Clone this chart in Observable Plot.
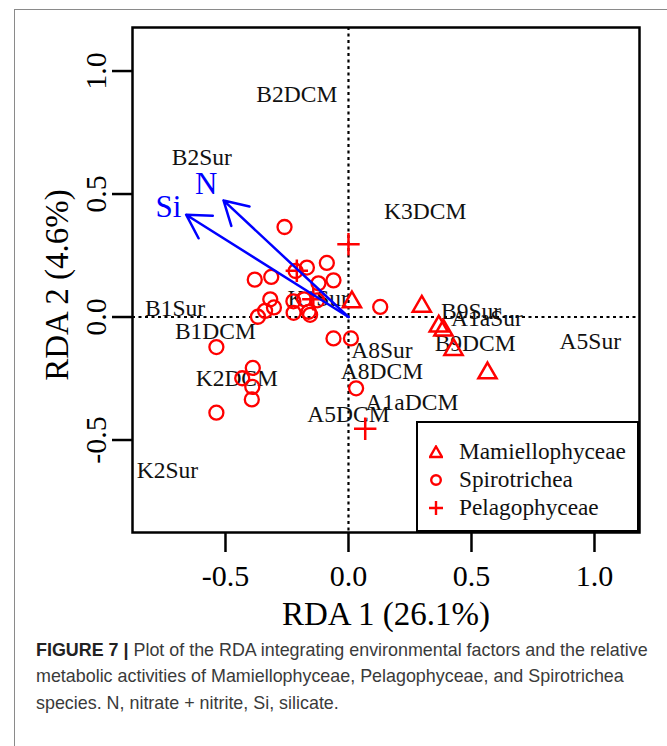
<!DOCTYPE html>
<html><head><meta charset="utf-8">
<script src="https://cdn.jsdelivr.net/npm/d3@7"></script>
<script src="https://cdn.jsdelivr.net/npm/@observablehq/plot@0.6"></script>
<style>
body{margin:0;background:#fff;width:667px;height:746px;overflow:hidden;position:relative;}
#frame{position:absolute;left:14px;top:9px;width:700px;height:800px;border-left:1.5px solid #8a8a8a;border-top:1.5px solid #8a8a8a;}
#chart{position:absolute;left:0;top:0;}
#legend{position:absolute;left:416px;top:421px;width:223px;height:111px;box-sizing:border-box;border:2.5px solid #000;background:#fff;font-family:"Liberation Serif","Times New Roman",serif;font-size:23.3px;color:#111;}
#legend .row{position:absolute;left:0;height:26px;}
#legend svg{position:absolute;left:11px;top:6px;}
#legend span{position:absolute;left:41px;top:-1px;white-space:nowrap;line-height:26px;}
.caption{position:absolute;left:36px;top:637px;font-family:"Liberation Sans",Arial,sans-serif;font-size:17.9px;line-height:26.3px;color:#3a3a3a;white-space:nowrap;}
.caption b{color:#222;}
</style></head>
<body>
<div id="frame"></div>
<div id="chart"></div>
<div id="legend"></div>
<div class="caption"><b>FIGURE 7 |</b> Plot of the RDA integrating environmental factors and the relative<br>metabolic activities of Mamiellophyceae, Pelagophyceae, and Spirotrichea<br>species. N, nitrate + nitrite, Si, silicate.</div>
<script>
// ---- data ----
const spiroX = [-0.088,-0.169,-0.215,-0.381,-0.314,-0.061,-0.122,-0.318,-0.303,-0.339,-0.368,-0.224,-0.223,-0.162,-0.156,-0.127,-0.180,0.129,-0.061,0.010,-0.537,-0.389,-0.432,-0.391,-0.393,-0.537,0.031,-0.260];
const spiroY = [0.220,0.201,0.187,0.152,0.163,0.149,0.137,0.072,0.039,0.025,0.001,0.064,0.017,0.021,0.009,0.068,0.072,0.041,-0.087,-0.087,-0.122,-0.207,-0.249,-0.284,-0.335,-0.389,-0.290,0.366];
const mamiX = [0.014,0.298,0.367,0.386,0.427,0.565];
const mamiY = [0.061,0.043,-0.038,-0.054,-0.133,-0.228];
const pelaX = [0.000,-0.210,0.068,-0.143];
const pelaY = [0.296,0.188,-0.454,0.072];
const siteNames = ["B2DCM","B2Sur","K3DCM","B1Sur","B1DCM","K1Sur","K2DCM","A8Sur","A8DCM","A1aDCM","A5DCM","K2Sur","B9Sur","A1aSur","B9DCM","A5Sur"];
const siteX = [-0.210,-0.596,0.312,-0.705,-0.541,-0.123,-0.454,0.136,0.136,0.258,0.000,-0.736,0.498,0.563,0.515,0.983];
const siteY = [0.905,0.648,0.430,0.034,-0.058,0.076,-0.248,-0.138,-0.220,-0.346,-0.397,-0.622,0.024,-0.007,-0.106,-0.098];
const envNames = ["N","Si"];
const envX = [-0.508,-0.660];
const envY = [0.474,0.416];
const envLabelX = [-0.578,-0.732];
const envLabelY = [0.542,0.447];
const xTicks = [-0.5,0,0.5,1.0];
const yTicks = [-0.5,0,0.5,1.0];
const xTickLabels = ["-0.5","0.0","0.5","1.0"];
const yTickLabels = ["-0.5","0.0","0.5","1.0"];
const legendNames = ["Mamiellophyceae","Spirotrichea","Pelagophyceae"];

// ---- tables ----
const spiro = spiroX.map((x,i)=>({x,y:spiroY[i]}));
const mami = mamiX.map((x,i)=>({x,y:mamiY[i]}));
const pela = pelaX.map((x,i)=>({x,y:pelaY[i]}));
const sites = siteNames.map((n,i)=>({n,x:siteX[i],y:siteY[i]}));
const env = envNames.map((n,i)=>({n,x:envX[i],y:envY[i],lx:envLabelX[i],ly:envLabelY[i]}));

const plusSymbol = {draw(ctx,size){const r=Math.sqrt(size/Math.PI)*1.6;ctx.moveTo(-r,0);ctx.lineTo(r,0);ctx.moveTo(0,-r);ctx.lineTo(0,r);}};
const triSymbol = {draw(ctx,size){const r=Math.sqrt(size/Math.PI)*1.5;ctx.moveTo(0,-r);ctx.lineTo(r*0.866,r*0.5);ctx.lineTo(-r*0.866,r*0.5);ctx.closePath();}};

const serif = '"Liberation Serif","Times New Roman",serif';
const red = "#ff0000";
const blue = "#0000ff";

const chart = Plot.plot({
  width:667, height:640,
  marginLeft:132, marginRight:28, marginTop:27, marginBottom:108,
  x:{domain:[-0.878,1.183]},
  y:{domain:[-0.876,1.177]},
  style:{fontFamily:serif, background:"transparent", color:"#000"},
  marks:[
    Plot.ruleX([0],{strokeDasharray:"3,3.5",strokeWidth:2.2,stroke:"#000"}),
    Plot.ruleY([0],{strokeDasharray:"3,3.5",strokeWidth:2.2,stroke:"#000"}),
    Plot.text(sites,{x:"x",y:"y",text:"n",fontSize:23.5,fill:"#111",fontFamily:serif}),
    Plot.dot(spiro,{x:"x",y:"y",r:7,stroke:red,strokeWidth:2.3,fill:"none"}),
    Plot.dot(mami,{x:"x",y:"y",r:7,symbol:triSymbol,stroke:red,strokeWidth:2.5,fill:"none"}),
    Plot.dot(pela,{x:"x",y:"y",r:7,symbol:plusSymbol,stroke:red,strokeWidth:2.5,fill:"none"}),
    Plot.arrow(env,{x1:()=>0,y1:()=>0,x2:"x",y2:"y",stroke:blue,strokeWidth:2.5,headLength:16,headAngle:60}),
    Plot.text(env,{x:"lx",y:"ly",text:"n",fill:blue,fontSize:31,fontFamily:serif}),
    Plot.axisX(xTicks,{tickSize:20,strokeWidth:2.5,tickFormat:()=>"",label:null}),
    Plot.axisY(yTicks,{tickSize:20,strokeWidth:2.5,tickFormat:()=>"",label:null}),
    Plot.text(xTicks,{x:d=>d,text:(d,i)=>xTickLabels[i],frameAnchor:"bottom",dy:44,fontSize:30,textAnchor:"middle",lineAnchor:"middle",fontFamily:serif}),
    Plot.text(yTicks,{y:d=>d,text:(d,i)=>yTickLabels[i],frameAnchor:"left",dx:-36,rotate:-90,fontSize:30,textAnchor:"middle",lineAnchor:"middle",fontFamily:serif}),
    Plot.text(["RDA 1 (26.1%)"],{text:d=>d,frameAnchor:"bottom",dy:82,fontSize:33,textAnchor:"middle",lineAnchor:"middle",fontFamily:serif}),
    Plot.text(["RDA 2 (4.6%)"],{text:d=>d,frameAnchor:"left",dx:-75,dy:5,rotate:-90,fontSize:33,textAnchor:"middle",lineAnchor:"middle",fontFamily:serif}),
    Plot.frame({strokeWidth:2.5,stroke:"#000"})
  ]
});
document.getElementById("chart").appendChild(chart);

// ---- legend ----
const leg = document.getElementById("legend");
const legSyms = [
  '<polygon points="7,1.5 13,12 1,12" fill="none" stroke="#ff0000" stroke-width="2.4"/>',
  '<circle cx="7" cy="7" r="4.8" fill="none" stroke="#ff0000" stroke-width="2.4"/>',
  '<path d="M0,7H14M7,0V14" stroke="#ff0000" stroke-width="2.4"/>'
];
const rowTops = [16,44,72];
legendNames.forEach((name,i)=>{
  const row = document.createElement("div");
  row.className="row";
  row.style.top = rowTops[i]+"px";
  row.innerHTML = `<svg width="14" height="14">${legSyms[i]}</svg><span>${name}</span>`;
  leg.appendChild(row);
});
</script>
</body></html>
